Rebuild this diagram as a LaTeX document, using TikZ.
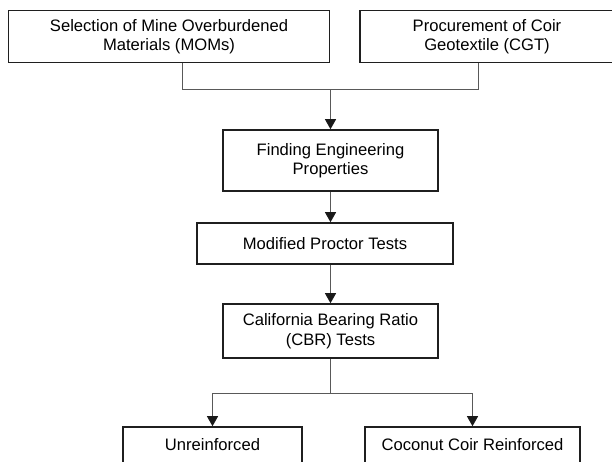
\documentclass[tikz,border=0pt]{standalone}
\usepackage{fontspec}
\setmainfont{Liberation Sans}
\usetikzlibrary{arrows.meta,positioning,calc}

\begin{document}
\begin{tikzpicture}[x=1pt,y=1pt,
    box/.style={draw=black!88,line width=1.6pt,align=center,inner sep=2pt,
      font=\fontsize{16.6}{19.5}\selectfont},
    link/.style={draw=black!65,line width=0.9pt},
    arr/.style={link,-{Triangle[length=10pt,width=11pt,color=black!90]}}]
	\useasboundingbox (0,0) rectangle (612,-461);
	\clip (0,0) rectangle (612,-461);

	% Nodes
	\node[box,minimum width=321pt,minimum height=52pt] (mom) at (169,-36.5) {Selection of Mine Overburdened\\Materials (MOMs)};
	\node[box,minimum width=254pt,minimum height=52pt] (cgt) at (487,-36.5) {Procurement of Coir\\Geotextile (CGT)};
	\node[box,minimum width=215pt,minimum height=61pt] (eng) at (330.5,-160.5) {Finding Engineering\\Properties};
	\node[box,minimum width=256pt,minimum height=41pt] (proctor) at (325,-243.5) {Modified Proctor Tests};
	\node[box,minimum width=215pt,minimum height=54pt] (cbr) at (330.5,-331) {California Bearing Ratio\\(CBR) Tests};
	\node[box,minimum width=179pt,minimum height=36pt] (unrein) at (212.5,-445) {Unreinforced};
	\node[box,minimum width=215pt,minimum height=36pt] (coir) at (472.5,-445) {Coconut Coir Reinforced};

	\coordinate (joinL) at (182,-89);
	\coordinate (joinR) at (478,-89);
	\coordinate (joinC) at (330.5,-89);
	\coordinate (split) at (330.5,-393);

	% Edges
	\draw[link] (mom.south -| joinL) -- (joinL) -- (joinR) -- (cgt.south -| joinR);
	\draw[arr] (joinC) -- (eng.north);
	\draw[arr] (eng.south) -- (eng.south |- proctor.north);
	\draw[arr] (cbr.north |- proctor.south) -- (cbr.north);
	\draw[link] (cbr.south) -- (split);
	\draw[arr] (split) -| (unrein.north);
	\draw[arr] (split) -| (coir.north);
\end{tikzpicture}
\end{document}
